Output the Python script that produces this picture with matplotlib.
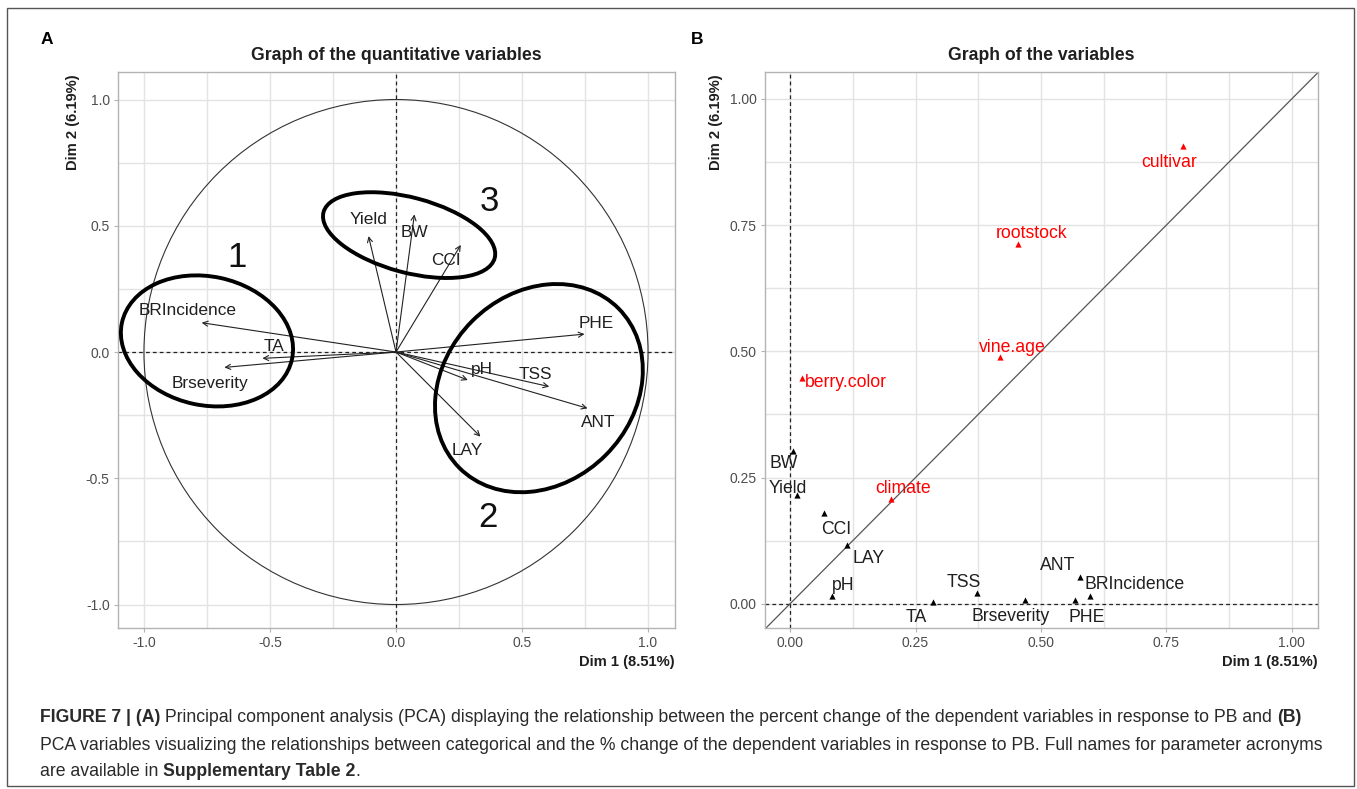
import matplotlib
matplotlib.use("Agg")
import matplotlib.pyplot as plt
from matplotlib.patches import Ellipse, Circle, Rectangle
import numpy as np

plt.rcParams['font.family'] = ['Liberation Sans', 'DejaVu Sans']

# ---------------- data ----------------
quant_vars_a = ['BRIncidence', 'TA', 'Brseverity', 'Yield', 'BW', 'CCI',
                'PHE', 'pH', 'TSS', 'ANT', 'LAY']
dim1_a = [-0.771, -0.530, -0.681, -0.109, 0.073, 0.257, 0.748, 0.285, 0.608, 0.760, 0.335]
dim2_a = [0.116, -0.025, -0.061, 0.459, 0.545, 0.424, 0.071, -0.111, -0.137, -0.223, -0.335]

quant_vars_b = ['BW', 'Yield', 'CCI', 'LAY', 'pH', 'TA', 'TSS', 'Brseverity',
                'ANT', 'BRIncidence', 'PHE']
dim1_b = [0.005, 0.013, 0.067, 0.113, 0.084, 0.284, 0.373, 0.468, 0.578, 0.597, 0.568]
dim2_b = [0.302, 0.216, 0.180, 0.117, 0.016, 0.003, 0.022, 0.007, 0.053, 0.016, 0.007]

cat_vars_b = ['cultivar', 'rootstock', 'vine.age', 'berry.color', 'climate']
cat_dim1_b = [0.783, 0.454, 0.418, 0.024, 0.201]
cat_dim2_b = [0.907, 0.713, 0.489, 0.447, 0.208]

ticks_a = [-1.0, -0.5, 0.0, 0.5, 1.0]
ticks_b = [0.0, 0.25, 0.5, 0.75, 1.0]

# label offsets (pixels)
off_a = {'BRIncidence': (-14, 12), 'TA': (12, 12), 'Brseverity': (-14, -16),
         'Yield': (0, 17), 'BW': (0, -18), 'CCI': (-15, -16), 'PHE': (12, 11),
         'pH': (14, 11), 'TSS': (-14, 12), 'ANT': (11, -14), 'LAY': (-13, -14)}
off_b = {'BW': (-9, -12), 'Yield': (-9, 6), 'CCI': (12, -17), 'LAY': (22, -14),
         'pH': (11, 10), 'TA': (-16, -15), 'TSS': (-14, 10), 'Brseverity': (-14, -16),
         'ANT': (-22, 11), 'BRIncidence': (45, 11), 'PHE': (12, -17),
         'cultivar': (-14, -17), 'rootstock': (14, 10), 'vine.age': (12, 9),
         'berry.color': (44, -4), 'climate': (12, 10)}

W, H = 1357, 789
fig = plt.figure(figsize=(W / 100, H / 100), dpi=100)
fig.patch.set_facecolor('white')

def fx(px):
    return px / W

def fy(py):
    return 1 - py / H

# border of figure
fig.patches.append(Rectangle((fx(7), fy(786)), fx(1354) - fx(7), fy(8) - fy(786),
                             transform=fig.transFigure, fill=False,
                             edgecolor='#555555', lw=1.0))

grid_col = '#E3E3E3'
border_col = '#B3B3B3'
tick_col = '#4D4D4D'
txt_col = '#1F1F1F'

def style_axes(ax, major, minor):
    ax.set_facecolor('white')
    ax.set_xticks(major)
    ax.set_yticks(major)
    ax.set_xticks(minor, minor=True)
    ax.set_yticks(minor, minor=True)
    ax.grid(True, which='both', color=grid_col, lw=1.0, zorder=0)
    ax.set_axisbelow(True)
    for s in ax.spines.values():
        s.set_color(border_col)
        s.set_linewidth(1.0)
    ax.tick_params(axis='both', which='major', colors=border_col, labelcolor=tick_col,
                   labelsize=10, length=3, width=0.8, pad=3)
    ax.tick_params(axis='both', which='minor', length=0)

# ---------------- panel A ----------------
axA = fig.add_axes([fx(118), fy(628), fx(675) - fx(118), fy(72) - fy(628)])
style_axes(axA, ticks_a, [-0.75, -0.25, 0.25, 0.75])
axA.set_xlim(-1.103, 1.107)
axA.set_ylim(-1.093, 1.109)
axA.set_xticklabels(['-1.0', '-0.5', '0.0', '0.5', '1.0'])
axA.set_yticklabels(['-1.0', '-0.5', '0.0', '0.5', '1.0'])
axA.add_patch(Circle((0, 0), 1.0, fill=False, edgecolor='#333333', lw=0.8, zorder=2))
axA.axhline(0, color='#222222', ls=(0, (3, 2.5)), lw=0.9, zorder=2)
axA.axvline(0, color='#222222', ls=(0, (3, 2.5)), lw=0.9, zorder=2)
for name, x, y in zip(quant_vars_a, dim1_a, dim2_a):
    axA.annotate('', xy=(x, y), xytext=(0, 0),
                 arrowprops=dict(arrowstyle='->', color='#222222', lw=0.8,
                                 mutation_scale=9, shrinkA=0, shrinkB=0), zorder=3)
    dx, dy = off_a[name]
    axA.annotate(name, xy=(x, y), xytext=(dx, dy), textcoords='offset pixels',
                 ha='center', va='center', fontsize=12.4, color=txt_col, zorder=4)
# hand-drawn cluster ellipses
axA.add_patch(Ellipse((-0.750, 0.044), 0.69, 0.51, angle=-12, fill=False,
                      edgecolor='black', lw=2.8, zorder=5))
axA.add_patch(Ellipse((0.052, 0.463), 0.703, 0.297, angle=-15, fill=False,
                      edgecolor='black', lw=2.8, zorder=5))
axA.add_patch(Ellipse((0.567, -0.143), 0.893, 0.75, angle=45, fill=False,
                      edgecolor='black', lw=2.8, zorder=5))
axA.text(-0.631, 0.376, '1', fontsize=25, ha='center', va='center', color='#111111')
axA.text(0.369, 0.598, '3', fontsize=25, ha='center', va='center', color='#111111')
axA.text(0.365, -0.654, '2', fontsize=25, ha='center', va='center', color='#111111')

fig.text(fx(396), fy(56), 'Graph of the quantitative variables', ha='center', va='center',
         fontsize=12.7, fontweight='bold', color=txt_col)
fig.text(fx(675), fy(662), 'Dim 1 (8.51%)', ha='right', va='center',
         fontsize=10.6, fontweight='bold', color=txt_col)
fig.text(fx(73), fy(74), 'Dim 2 (6.19%)', ha='center', va='top', rotation=90,
         fontsize=10.6, fontweight='bold', color=txt_col)
fig.text(fx(47), fy(40), 'A', ha='center', va='center', fontsize=12.5,
         fontweight='bold', color='black')

# ---------------- panel B ----------------
axB = fig.add_axes([fx(765), fy(628), fx(1318) - fx(765), fy(72) - fy(628)])
style_axes(axB, ticks_b, [0.125, 0.375, 0.625, 0.875])
axB.set_xlim(-0.05, 1.052)
axB.set_ylim(-0.048, 1.053)
axB.set_xticklabels(['0.00', '0.25', '0.50', '0.75', '1.00'])
axB.set_yticklabels(['0.00', '0.25', '0.50', '0.75', '1.00'])
axB.axhline(0, color='#222222', ls=(0, (3, 2.5)), lw=0.9, zorder=2)
axB.axvline(0, color='#222222', ls=(0, (3, 2.5)), lw=0.9, zorder=2)
axB.axline((0, 0), slope=1, color='#555555', lw=0.9, zorder=2)
axB.scatter(dim1_b, dim2_b, marker='^', s=20, color='black', zorder=4, linewidths=0)
axB.scatter(cat_dim1_b, cat_dim2_b, marker='^', s=20, color='red', zorder=4, linewidths=0)
for name, x, y in zip(quant_vars_b, dim1_b, dim2_b):
    dx, dy = off_b[name]
    axB.annotate(name, xy=(x, y), xytext=(dx, dy), textcoords='offset pixels',
                 ha='center', va='center', fontsize=12.7, color=txt_col, zorder=5)
for name, x, y in zip(cat_vars_b, cat_dim1_b, cat_dim2_b):
    dx, dy = off_b[name]
    axB.annotate(name, xy=(x, y), xytext=(dx, dy), textcoords='offset pixels',
                 ha='center', va='center', fontsize=12.7, color='red', zorder=5)

fig.text(fx(1041), fy(56), 'Graph of the variables', ha='center', va='center',
         fontsize=12.7, fontweight='bold', color=txt_col)
fig.text(fx(1318), fy(662), 'Dim 1 (8.51%)', ha='right', va='center',
         fontsize=10.6, fontweight='bold', color=txt_col)
fig.text(fx(716), fy(74), 'Dim 2 (6.19%)', ha='center', va='top', rotation=90,
         fontsize=10.6, fontweight='bold', color=txt_col)
fig.text(fx(697), fy(40), 'B', ha='center', va='center', fontsize=12.5,
         fontweight='bold', color='black')

# ---------------- caption ----------------
cap_lines = [
    [('FIGURE 7 | (A)', True),
     (' Principal component analysis (PCA) displaying the relationship between the percent change of the dependent variables in response to PB and ', False),
     ('(B)', True)],
    [('PCA variables visualizing the relationships between categorical and the % change of the dependent variables in response to PB. Full names for parameter acronyms', False)],
    [('are available in ', False), ('Supplementary Table 2', True), ('.', False)],
]
cap_y = [718, 745, 771]
fig.canvas.draw()
renderer = fig.canvas.get_renderer()
for line, py in zip(cap_lines, cap_y):
    x = fx(40)
    for txt, bold in line:
        t = fig.text(x, fy(py), txt, ha='left', va='center', fontsize=12.73,
                     fontweight='bold' if bold else 'normal', color='#2A2A2A')
        bb = t.get_window_extent(renderer=renderer)
        x += bb.width / W

fig.savefig('out.png', dpi=100, facecolor='white')
